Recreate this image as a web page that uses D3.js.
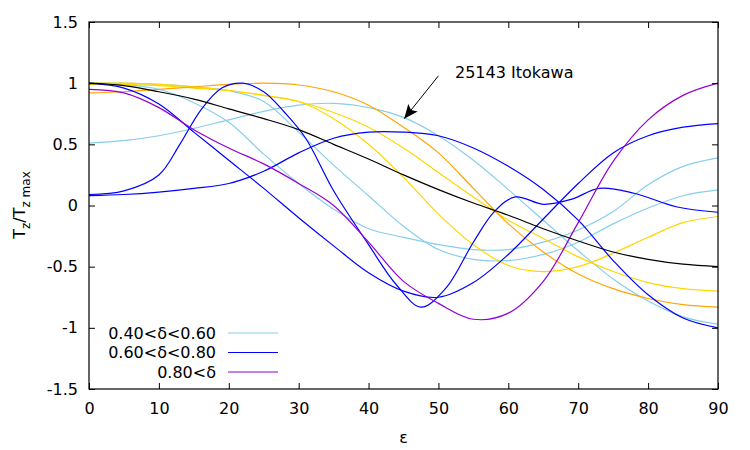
<!DOCTYPE html>
<html>
<head>
<meta charset="utf-8">
<script src="https://cdn.jsdelivr.net/npm/d3@7"></script>
<style>
body { margin: 0; background: #fff; }
text { font-family: "DejaVu Sans", sans-serif; font-size: 16px; fill: #000; }
</style>
</head>
<body>
<script>
// tick labels
const xTicks = [0, 10, 20, 30, 40, 50, 60, 70, 80, 90];
const yTicks = [-1.5, -1, -0.5, 0, 0.5, 1, 1.5];

// common epsilon grid (degrees)
const eps = [0, 5, 10, 15, 20, 25, 30, 35, 40, 45, 50, 55, 60, 65, 70, 75, 80, 85, 90];

// 25143 Itokawa
const itokawa = [1.0, 0.98, 0.93, 0.87, 0.79, 0.71, 0.62, 0.50, 0.38, 0.25, 0.13, 0.02, -0.08, -0.19, -0.29, -0.38, -0.44, -0.48, -0.50];

// 0.40<delta<0.60 (light blue)
const lb1 = [0.51, 0.53, 0.57, 0.63, 0.70, 0.77, 0.82, 0.835, 0.80, 0.72, 0.57, 0.37, 0.13, -0.12, -0.37, -0.60, -0.78, -0.91, -0.97];
const lb2 = [1.0, 0.99, 0.95, 0.84, 0.68, 0.42, 0.18, -0.03, -0.19, -0.26, -0.32, -0.36, -0.36, -0.30, -0.20, -0.05, 0.17, 0.32, 0.39];
const lb3 = [1.0, 1.0, 0.99, 0.97, 0.94, 0.85, 0.60, 0.33, 0.08, -0.17, -0.36, -0.44, -0.45, -0.40, -0.30, -0.15, -0.02, 0.08, 0.127];

// 0.60<delta<0.80 (blue)
const epsBa = [0, 5, 10, 13, 16, 19, 22, 25, 28, 31, 35, 40, 44, 47.5, 51, 55, 58, 61, 65, 69, 73, 78, 84, 90];
const ba = [0.09, 0.12, 0.25, 0.50, 0.78, 0.96, 1.0, 0.93, 0.76, 0.55, 0.12, -0.32, -0.65, -0.83, -0.68, -0.30, -0.05, 0.07, 0.01, 0.05, 0.14, 0.10, -0.01, -0.055];
const bc = [1.0, 0.96, 0.83, 0.60, 0.37, 0.14, -0.10, -0.33, -0.55, -0.70, -0.75, -0.63, -0.40, -0.11, 0.18, 0.43, 0.57, 0.64, 0.67];
const bd = [0.08, 0.09, 0.11, 0.14, 0.18, 0.28, 0.43, 0.55, 0.60, 0.60, 0.57, 0.47, 0.32, 0.13, -0.12, -0.45, -0.73, -0.92, -1.0];

// 0.80<delta (purple)
const pu = [0.95, 0.92, 0.80, 0.62, 0.47, 0.34, 0.18, 0.0, -0.30, -0.62, -0.80, -0.93, -0.88, -0.62, -0.14, 0.36, 0.70, 0.90, 1.0];

// other asteroids (gold / orange)
const gA = [0.99, 0.99, 0.98, 0.96, 0.94, 0.90, 0.85, 0.76, 0.64, 0.47, 0.27, 0.07, -0.12, -0.27, -0.42, -0.54, -0.63, -0.68, -0.70];
const gB = [1.0, 1.0, 0.99, 0.97, 0.94, 0.90, 0.85, 0.71, 0.50, 0.23, -0.07, -0.32, -0.49, -0.54, -0.50, -0.39, -0.26, -0.14, -0.09];
const or1 = [0.92, 0.93, 0.95, 0.97, 0.99, 1.0, 0.985, 0.93, 0.82, 0.64, 0.43, 0.14, -0.15, -0.38, -0.56, -0.68, -0.76, -0.81, -0.83];

const legendLabels = ["0.40<δ<0.60", "0.60<δ<0.80", "0.80<δ"];
const legendColors = ["#87ceeb", "#0000ff", "#9400d3"];

const W = 750, H = 450;
const m = { left: 89, right: 32, top: 22, bottom: 61 };

const svg = d3.select("body").append("svg")
  .attr("width", W)
  .attr("height", H);

const x = d3.scaleLinear().domain([0, 90]).range([m.left, W - m.right]);
const y = d3.scaleLinear().domain([-1.5, 1.5]).range([H - m.bottom, m.top]);

svg.append("clipPath").attr("id", "plot")
  .append("rect")
  .attr("x", m.left).attr("y", m.top)
  .attr("width", W - m.left - m.right).attr("height", H - m.top - m.bottom);

const curves = [
  { xs: eps, ys: lb1, c: "#87ceeb" },
  { xs: eps, ys: lb2, c: "#87ceeb" },
  { xs: eps, ys: lb3, c: "#87ceeb" },
  { xs: eps, ys: gA, c: "#ffd700" },
  { xs: eps, ys: gB, c: "#ffd700" },
  { xs: eps, ys: or1, c: "#ffa500" },
  { xs: epsBa, ys: ba, c: "#0000ff" },
  { xs: eps, ys: bc, c: "#0000ff" },
  { xs: eps, ys: bd, c: "#0000ff" },
  { xs: eps, ys: pu, c: "#9400d3" },
  { xs: eps, ys: itokawa, c: "#000000" }
];

const line = d3.line()
  .x(d => x(d[0]))
  .y(d => y(d[1]))
  .curve(d3.curveCatmullRom.alpha(0.5));

svg.append("g").attr("clip-path", "url(#plot)")
  .selectAll("path")
  .data(curves)
  .enter()
  .append("path")
  .attr("d", d => line(d.xs.map((v, i) => [v, d.ys[i]])))
  .attr("fill", "none")
  .attr("stroke", d => d.c)
  .attr("stroke-width", 1.2);

// axes, gnuplot style: ticks inside, mirrored
const tk = 6;
const xb = svg.append("g").attr("transform", "translate(0," + (H - m.bottom) + ")")
  .call(d3.axisBottom(x).tickValues(xTicks).tickSize(-tk).tickPadding(14).tickFormat(d3.format("d")));
const xt = svg.append("g").attr("transform", "translate(0," + m.top + ")")
  .call(d3.axisTop(x).tickValues(xTicks).tickSize(-tk).tickFormat(""));
const yl = svg.append("g").attr("transform", "translate(" + m.left + ",0)")
  .call(d3.axisLeft(y).tickValues(yTicks).tickSize(-tk).tickPadding(11).tickFormat(d => d));
const yr = svg.append("g").attr("transform", "translate(" + (W - m.right) + ",0)")
  .call(d3.axisRight(y).tickValues(yTicks).tickSize(-tk).tickFormat(""));

[xb, xt, yl, yr].forEach(g => {
  g.select(".domain").remove();
  g.selectAll("line").attr("stroke", "#000").attr("stroke-width", 1);
  g.selectAll("text").style("font-size", "16px").style("font-family", "DejaVu Sans, sans-serif");
});

svg.append("rect")
  .attr("x", m.left).attr("y", m.top)
  .attr("width", W - m.left - m.right).attr("height", H - m.top - m.bottom)
  .attr("fill", "none").attr("stroke", "#000").attr("stroke-width", 1.2);

// axis labels
svg.append("text")
  .attr("x", (m.left + W - m.right) / 2).attr("y", 443)
  .attr("text-anchor", "middle")
  .text("ε");

const yLab = svg.append("text")
  .attr("transform", "translate(25,205) rotate(-90)")
  .attr("text-anchor", "middle");
yLab.append("tspan").text("T");
yLab.append("tspan").attr("dy", 5).style("font-size", "12px").text("z");
yLab.append("tspan").attr("dy", -5).text("/T");
yLab.append("tspan").attr("dy", 5).style("font-size", "12px").text("z max");

// arrow + label
svg.append("defs").append("marker")
  .attr("id", "head")
  .attr("viewBox", "0 0 14 12")
  .attr("refX", 14).attr("refY", 6)
  .attr("markerWidth", 14).attr("markerHeight", 12)
  .attr("markerUnits", "userSpaceOnUse")
  .attr("orient", "auto")
  .append("path")
  .attr("d", "M0,0 L14,6 L0,12 L3,6 Z")
  .attr("fill", "#000");

svg.append("line")
  .attr("x1", x(50)).attr("y1", y(1.06))
  .attr("x2", x(45.1)).attr("y2", y(0.71))
  .attr("stroke", "#000").attr("stroke-width", 1)
  .attr("marker-end", "url(#head)");

svg.append("text")
  .attr("x", 455).attr("y", 78)
  .text("25143 Itokawa");

// legend
const lg = svg.append("g");
legendLabels.forEach((t, i) => {
  const yy = 333 + i * 19.5;
  lg.append("text")
    .attr("x", 216).attr("y", yy)
    .attr("dy", "0.35em")
    .attr("text-anchor", "end")
    .text(t);
  lg.append("line")
    .attr("x1", 228).attr("x2", 278)
    .attr("y1", yy).attr("y2", yy)
    .attr("stroke", legendColors[i]).attr("stroke-width", 1.2);
});
</script>
</body>
</html>
